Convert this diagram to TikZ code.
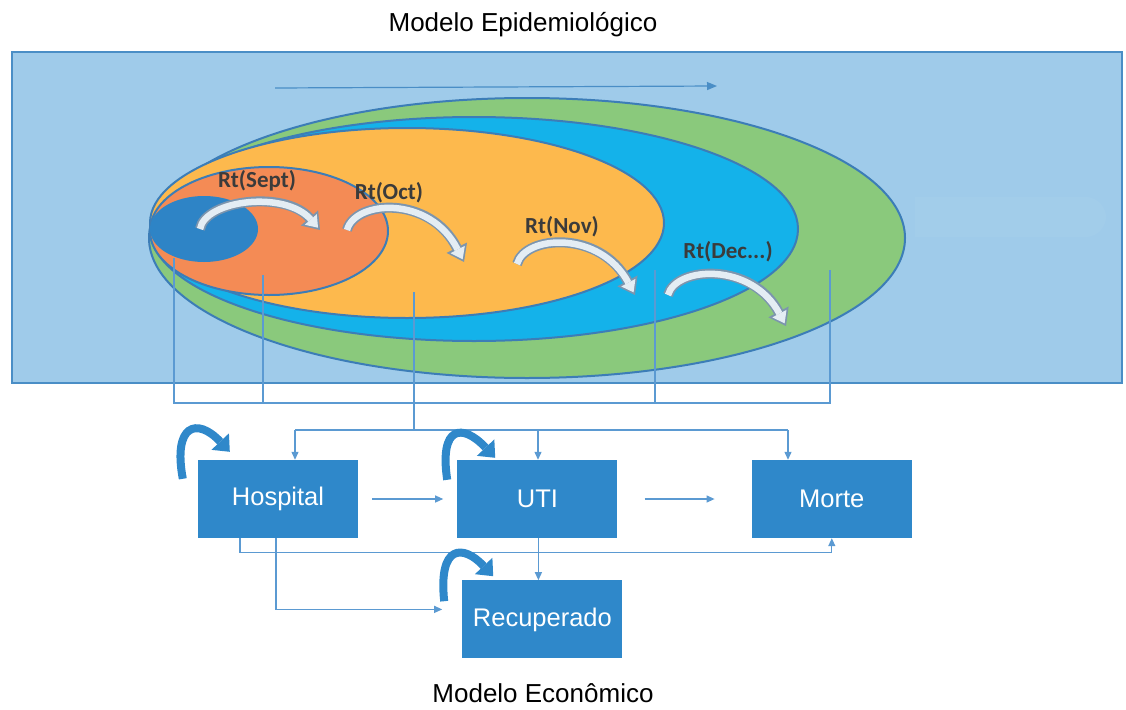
\documentclass[tikz,border=0pt]{standalone}
\usepackage{fontspec}
\setmainfont{Liberation Sans}
\newfontfamily\rtfont{Carlito}
\usetikzlibrary{arrows.meta,positioning}
\usepackage{xcolor}
\definecolor{skyback}{HTML}{9FCBEA}
\definecolor{frameblue}{HTML}{4A8EC6}
\definecolor{leafgreen}{HTML}{8AC97C}
\definecolor{cyanring}{HTML}{14B2EA}
\definecolor{sunyellow}{HTML}{FDB94D}
\definecolor{salmon}{HTML}{F48B55}
\definecolor{coreblue}{HTML}{2E84C6}
\definecolor{rimblue}{HTML}{3C7DB7}
\definecolor{boxblue}{HTML}{2F88CA}
\definecolor{linkblue}{HTML}{5B9AD2}
\definecolor{rtgrey}{HTML}{3B3B3B}
\definecolor{hollowrim}{HTML}{7C95AE}
\definecolor{hollowfill}{HTML}{E4EDF4}

\begin{document}
\begin{tikzpicture}[
  x=1pt, y=-1pt,
  ring/.style={draw=rimblue, line width=2pt},
  box/.style={fill=boxblue, minimum width=160pt, minimum height=78pt, text=white, font=\fontsize{25.5}{30}\selectfont},
  title/.style={font=\fontsize{26}{31}\selectfont, text=black},
  rtlabel/.style={font=\rtfont\bfseries\fontsize{23}{27}\selectfont, text=rtgrey},
  link/.style={draw=linkblue, line width=1.2pt},
  arr/.style={link, -{Triangle[length=8pt,width=7pt]}},
  rtarrow/.style={draw=hollowfill, line width=6.5pt, -{Triangle[length=11pt,width=16pt,line width=0pt]}, shorten >=3pt,
    preaction={draw=hollowrim, line width=10pt, -{Triangle[length=16pt,width=23pt,line width=0pt]}, shorten >=0pt}},
  selfloop/.style={draw=boxblue, line width=8pt, -{Triangle[length=14pt,width=24pt,line width=0pt]}}
]
\useasboundingbox (0,0) rectangle (1126,709);

% epidemiological model
\node[title] (epi) at (523,25) {Modelo Epidemiológico};
\draw[draw=frameblue, line width=2pt, fill=skyback] (12,52) rectangle (1122,383);
\fill[white, opacity=0.04] (915,197) -- (1085,197) .. controls (1100,197) and (1106,210) .. (1106,217)
  .. controls (1106,224) and (1100,237) .. (1085,237) -- (915,237) -- cycle;
\coordinate (ts) at (275,88);
\coordinate (te) at (717,86);
\draw[link, draw=frameblue, -{Triangle[length=10pt,width=8pt]}] (ts) -- (te);

\draw[ring, fill=leafgreen] (527,238) ellipse [x radius=378pt, y radius=140pt];
\draw[ring, fill=cyanring] (474,229) ellipse [x radius=324pt, y radius=112pt];
\draw[ring, fill=sunyellow] (407,223) ellipse [x radius=257pt, y radius=95pt];
\draw[ring, fill=salmon] (269,231) ellipse [x radius=119pt, y radius=64pt];
\draw[ring, draw=none, fill=coreblue] (204,229) ellipse [x radius=54pt, y radius=33pt];

% links from the rings
\coordinate (d1) at (174,258);
\coordinate (d2) at (263,275);
\coordinate (d3) at (655,270);
\coordinate (d4) at (830,270);
\coordinate (d5) at (414,292);
\coordinate (bus) at (0,403);
\coordinate (feed) at (414,430);
\coordinate (fh) at (295,430);
\coordinate (fu) at (538,430);
\coordinate (fm) at (788,430);
\draw[link] (d1) -- (d1 |- bus) -| (d4);
\draw[link] (d2) -- (d2 |- bus);
\draw[link] (d3) -- (d3 |- bus);
\draw[link] (d5) -- (feed);
\draw[link] (fh) -- (fm);

% Rt arrows
\draw[rtarrow] (200,229) .. controls (205,200) and (285,190) .. (320,230);
\draw[rtarrow] (347,230) .. controls (355,200) and (430,195) .. (464,262);
\draw[rtarrow] (517,264) .. controls (525,235) and (600,230) .. (635,295);
\draw[rtarrow] (668,295) .. controls (676,266) and (752,262) .. (786,326);
\node[rtlabel] (rtsep) at (257,181) {Rt(Sept)};
\node[rtlabel] (rtoct) at (389,193) {Rt(Oct)};
\node[rtlabel] (rtnov) at (562,227) {Rt(Nov)};
\node[rtlabel] (rtdec) at (728,252) {Rt(Dec...)};

% economic model
\node[box] (hosp) at (278,499) {Hospital};
\node[box, right=99pt of hosp] (uti) {UTI};
\node[box, right=134pt of uti] (morte) {Morte};
\node[box, below=42pt of uti, xshift=5pt] (recup) {Recuperado};
\node[title] (eco) at (543,693) {Modelo Econômico};

\draw[arr] (fh) -- (fh |- hosp.north);
\draw[arr] (fu) -- (fu |- uti.north);
\draw[arr] (fm) -- (fm |- morte.north);
\draw[arr, shorten <=14pt, shorten >=14pt] (hosp) -- (uti);
\draw[arr, shorten <=27pt, shorten >=37pt] (uti) -- (morte);
\draw[arr] ([xshift=-38pt]hosp.south) -- ++(0,14) -| (morte.south);
\draw[arr, shorten >=20pt] ([xshift=-2pt]hosp.south) |- ([yshift=10pt]recup.west);
\draw[arr] ([xshift=1pt]uti.south) -- ([xshift=1pt]uti.south |- recup.north);

\draw[selfloop] ([shift={(-15,19)}]hosp.north west) .. controls +(-10,-54) and +(-33,-35) .. ([shift={(32,-8)}]hosp.north west);
\draw[selfloop] ([shift={(-10,20)}]uti.north west) .. controls +(-8,-54) and +(-33,-35) .. ([shift={(38,-2)}]uti.north west);
\draw[selfloop] ([shift={(-18,21)}]recup.north west) .. controls +(-6,-57) and +(-30,-32) .. ([shift={(31,-4)}]recup.north west);
\end{tikzpicture}
\end{document}
